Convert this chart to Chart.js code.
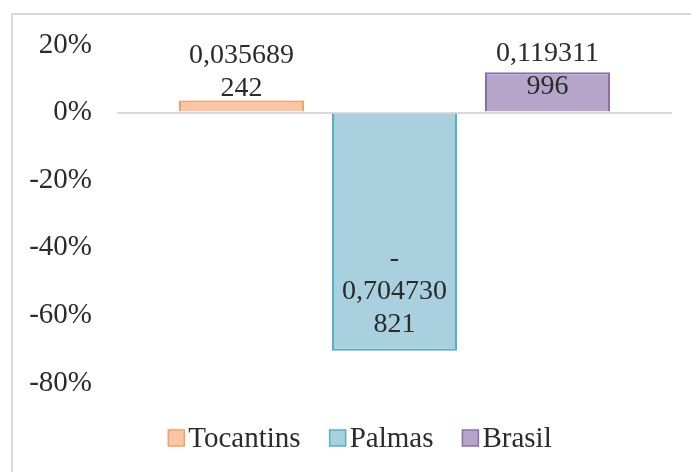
<!DOCTYPE html>
<html>
<head>
<meta charset="utf-8">
<script src="https://cdn.jsdelivr.net/npm/chart.js@4.4.1/dist/chart.umd.min.js"></script>
<style>
  html, body { margin: 0; padding: 0; background: #ffffff; }
  #wrap { position: relative; width: 691px; height: 472px; overflow: hidden; }
  #frame { position: absolute; left: 11px; top: 13px; width: 760px; height: 560px;
           border-left: 2px solid #D9D9D9; border-top: 2px solid #D9D9D9; }
  canvas { position: absolute; left: 0; top: 0; }
</style>
</head>
<body>
<div id="wrap">
  <div id="frame"></div>
  <canvas id="chart" width="691" height="472"></canvas>
</div>
<script>
// Variation by region (fraction, shown as %)
const seriesNames  = ['Tocantins', 'Palmas', 'Brasil'];
const seriesValues = [0.035689242, -0.704730821, 0.119311996];
const fillColors   = ['#F9C5A5', '#A8D0DF', '#B4A5C9'];
const borderColors = ['#F4A060', '#52B1C9', '#8A6EB0'];
const yTicks       = [-0.8, -0.6, -0.4, -0.2, 0, 0.2];

const FONT = '"Liberation Serif", "Times New Roman", serif';
const TEXT = '#2b2b2b';

// Value label, comma decimal, wrapped the way the spreadsheet wraps it
function labelLines(v) {
  const s = Math.abs(v).toFixed(9).replace('.', ',');
  const lines = [];
  if (v < 0) lines.push('-');
  lines.push(s.slice(0, 8), s.slice(8));
  return lines;
}

const valueLabels = {
  id: 'valueLabels',
  afterDatasetsDraw(chart) {
    const ctx = chart.ctx;
    const LINE = 33;
    ctx.save();
    ctx.font = '28px ' + FONT;
    ctx.fillStyle = TEXT;
    ctx.textAlign = 'center';
    ctx.textBaseline = 'alphabetic';
    chart.data.datasets.forEach((ds, i) => {
      const bar = chart.getDatasetMeta(i).data[0];
      const v = ds.data[0];
      const lines = labelLines(v);
      let first;
      if (v >= 0) {
        first = bar.y - 5 - LINE * (lines.length - 1);
        first = Math.max(first, chart.chartArea.top + 16);
      } else {
        first = bar.y - 19 - LINE * (lines.length - 1);
      }
      lines.forEach((t, k) => ctx.fillText(t, bar.x, first + k * LINE));
    });
    ctx.restore();
  }
};

const boxLegend = {
  id: 'boxLegend',
  afterDraw(chart) {
    const ctx = chart.ctx;
    const box = 16, gapText = 4, gapItem = 29;
    ctx.save();
    ctx.font = '29px ' + FONT;
    ctx.textBaseline = 'alphabetic';
    ctx.textAlign = 'left';
    const items = chart.data.datasets.map(ds => ({
      ds, w: box + gapText + ctx.measureText(ds.label).width
    }));
    const total = items.reduce((a, it) => a + it.w, 0) + gapItem * (items.length - 1);
    let x = 360 - total / 2;
    const base = chart.chartArea.bottom + 64;
    items.forEach(it => {
      ctx.fillStyle = it.ds.backgroundColor;
      ctx.strokeStyle = it.ds.borderColor;
      ctx.lineWidth = 1.5;
      ctx.fillRect(x, base - 17, box, box);
      ctx.strokeRect(x, base - 17, box, box);
      ctx.fillStyle = TEXT;
      ctx.fillText(it.ds.label, x + box + gapText, base);
      x += it.w + gapItem;
    });
    ctx.restore();
  }
};

new Chart(document.getElementById('chart'), {
  type: 'bar',
  data: {
    labels: [''],
    datasets: seriesNames.map((name, i) => ({
      label: name,
      data: [seriesValues[i]],
      backgroundColor: fillColors[i],
      borderColor: borderColors[i],
      borderWidth: 2,
      categoryPercentage: 0.827,
      barPercentage: 0.817
    }))
  },
  options: {
    responsive: false,
    devicePixelRatio: 1,
    animation: false,
    layout: { padding: { left: 0, right: 19, top: 45, bottom: 89 } },
    plugins: { legend: { display: false }, tooltip: { enabled: false } },
    scales: {
      x: { display: false },
      y: {
        min: yTicks[0],
        max: yTicks[yTicks.length - 1],
        afterBuildTicks(scale) { scale.ticks = yTicks.map(v => ({ value: v })); },
        afterFit(scale) { scale.width = 117; },
        border: { display: false },
        grid: {
          drawTicks: false,
          lineWidth: 2,
          color: c => (Math.abs(c.tick.value) < 1e-9 ? '#D9D9D9' : 'rgba(0,0,0,0)')
        },
        ticks: {
          padding: 25,
          color: TEXT,
          font: { family: FONT, size: 29 },
          callback: v => Math.round(v * 100) + '%'
        }
      }
    }
  },
  plugins: [valueLabels, boxLegend]
});
</script>
</body>
</html>
